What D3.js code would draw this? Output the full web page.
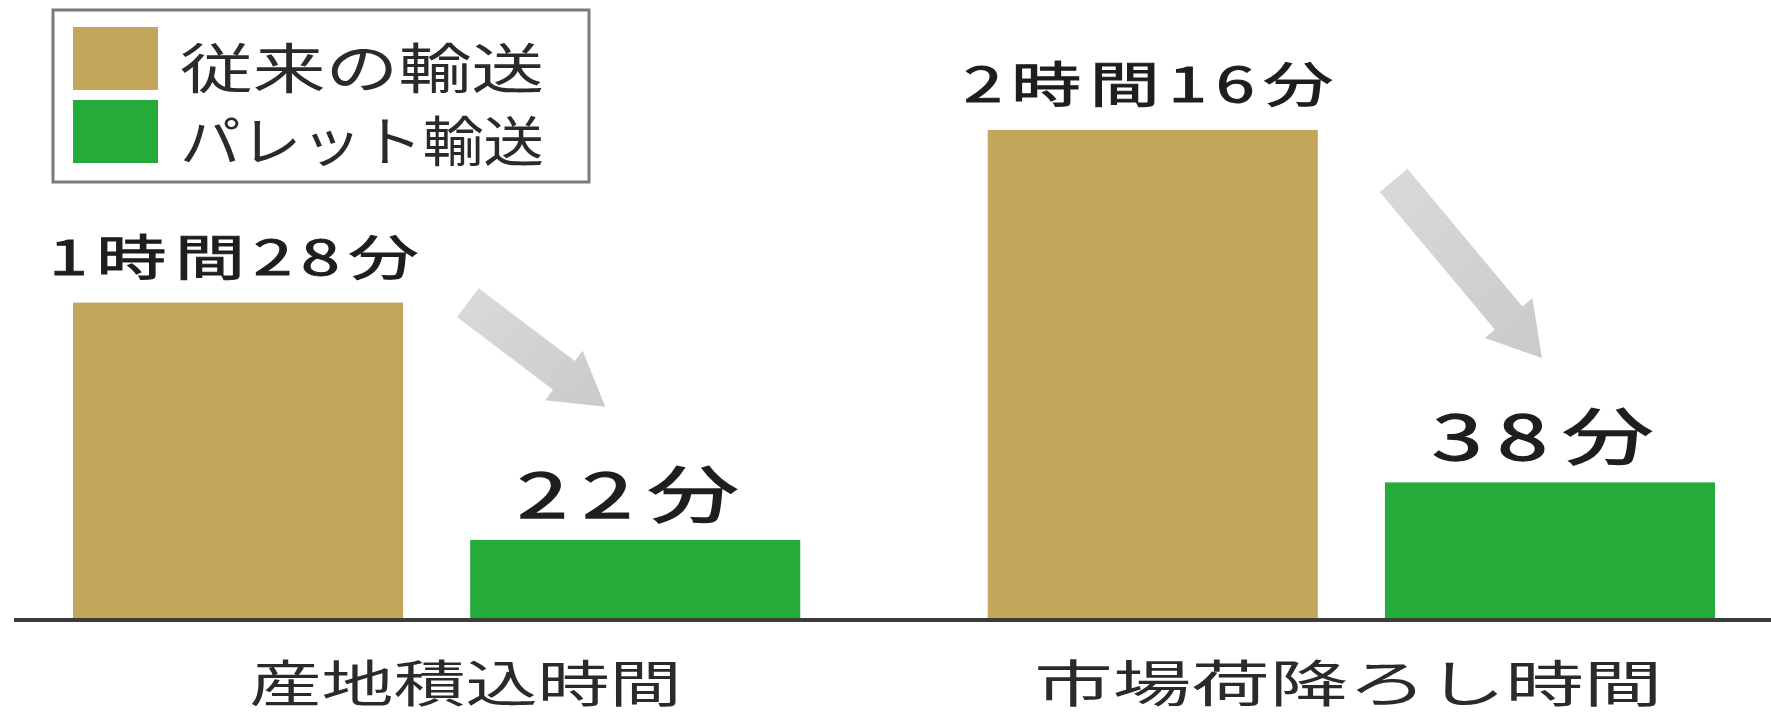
<!DOCTYPE html>
<html>
<head>
<meta charset="utf-8">
<script src="https://cdn.jsdelivr.net/npm/d3@7"></script>
<style>
  html, body { margin: 0; padding: 0; background: #fff; }
  svg { display: block; font-family: "Noto Sans CJK JP", "Noto Sans", sans-serif; }
</style>
</head>
<body>
<div id="chart"></div>
<script>
// Loading/unloading time, conventional vs pallet transport (minutes).
const categories = ['産地積込時間', '市場荷降ろし時間'];
const seriesNames = ['従来の輸送', 'パレット輸送'];
const conventionalMinutes = [88, 136];
const palletMinutes = [22, 38];
const valueLabels = [['1時間28分', '22分'], ['2時間16分', '38分']];

// Decorative arrows: [fraction across group band, minutes] for tail and tip.
const arrows = [
  { cat: '産地積込時間', from: [0.543, 88], to: [0.732, 59] },
  { cat: '市場荷降ろし時間', from: [0.558, 122], to: [0.762, 72.6] }
];

const colors = { '従来の輸送': '#c4a55c', 'パレット輸送': '#24ab3a' };

const W = 1771, H = 715;
const baseY = 619;

const svg = d3.select('#chart').append('svg').attr('width', W).attr('height', H);

const rows = categories.map((c, i) => ({
  category: c,
  values: [
    { series: seriesNames[0], value: conventionalMinutes[i], label: valueLabels[i][0] },
    { series: seriesNames[1], value: palletMinutes[i], label: valueLabels[i][1] }
  ]
}));

// Outer band = category group, inner band = series.
const x0 = d3.scaleBand().domain(categories).range([73, 1715]).paddingInner(0.205).paddingOuter(0);
const x1 = d3.scaleBand().domain(seriesNames).range([0, x0.bandwidth()]).paddingInner(0.169).paddingOuter(0);
const y = d3.scaleLinear().domain([0, 136]).range([baseY, 130]);

const groups = svg.selectAll('g.group')
  .data(rows)
  .enter().append('g')
  .attr('class', 'group')
  .attr('transform', d => `translate(${x0(d.category)},0)`);

groups.selectAll('rect')
  .data(d => d.values)
  .enter().append('rect')
  .attr('x', d => x1(d.series))
  .attr('y', d => y(d.value))
  .attr('width', x1.bandwidth())
  .attr('height', d => y(0) - y(d.value))
  .attr('fill', d => colors[d.series]);

// Value labels above each bar; the source artwork is stretched horizontally,
// so textLength widens the glyphs to match.
groups.selectAll('text.value')
  .data(d => d.values)
  .enter().append('text')
  .attr('class', 'value')
  .attr('x', d => x1(d.series) + x1.bandwidth() / 2)
  .attr('y', d => y(d.value) - 49)
  .attr('text-anchor', 'middle')
  .attr('dominant-baseline', 'central')
  .attr('font-size', d => d.label.length > 3 ? 48 : 62)
  .attr('letter-spacing', d => d.label.length > 3 ? 6 : 10)
  .attr('textLength', d => d.label.length > 3 ? 378 : 236)
  .attr('lengthAdjust', 'spacingAndGlyphs')
  .attr('fill', '#1e1e1e')
  .attr('stroke', '#1e1e1e')
  .attr('stroke-width', d => d.label.length > 3 ? 1 : 1.3)
  .text(d => d.label);

// Grey arrows between the bars of each group.
function arrowPath(x0p, y0p, x1p, y1p) {
  const dx = x1p - x0p, dy = y1p - y0p;
  const len = Math.hypot(dx, dy);
  const ux = dx / len, uy = dy / len, nx = -uy, ny = ux;
  const shaftW = 18, headW = 31, headL = 52;
  const hx = x1p - ux * headL, hy = y1p - uy * headL;
  const pts = [
    [x0p + nx * shaftW, y0p + ny * shaftW],
    [hx + nx * shaftW, hy + ny * shaftW],
    [hx + nx * headW, hy + ny * headW],
    [x1p, y1p],
    [hx - nx * headW, hy - ny * headW],
    [hx - nx * shaftW, hy - ny * shaftW],
    [x0p - nx * shaftW, y0p - ny * shaftW]
  ];
  return 'M' + pts.map(p => p.join(',')).join('L') + 'Z';
}

const defs = svg.append('defs');
const grad = defs.append('linearGradient').attr('id', 'arrowGrad')
  .attr('x1', '0').attr('y1', '0').attr('x2', '1').attr('y2', '1');
grad.append('stop').attr('offset', '0%').attr('stop-color', '#dadada');
grad.append('stop').attr('offset', '100%').attr('stop-color', '#cacaca');

svg.selectAll('path.arrow')
  .data(arrows)
  .enter().append('path')
  .attr('class', 'arrow')
  .attr('d', a => {
    const bx = x0(a.cat), bw = x0.bandwidth();
    return arrowPath(bx + a.from[0] * bw, y(a.from[1]), bx + a.to[0] * bw, y(a.to[1]));
  })
  .attr('fill', 'url(#arrowGrad)');

// Baseline across the full width.
svg.append('line')
  .attr('x1', 14).attr('x2', W)
  .attr('y1', baseY + 1).attr('y2', baseY + 1)
  .attr('stroke', '#3c3c3c')
  .attr('stroke-width', 4);

// Category labels under the baseline.
const catShift = [29, -3];
const catWidth = [432, 628];
svg.selectAll('text.cat')
  .data(categories)
  .enter().append('text')
  .attr('class', 'cat')
  .attr('x', (d, i) => x0(d) + x0.bandwidth() / 2 + catShift[i])
  .attr('y', 680)
  .attr('text-anchor', 'middle')
  .attr('dominant-baseline', 'central')
  .attr('font-size', 50)
  .attr('textLength', (d, i) => catWidth[i])
  .attr('lengthAdjust', 'spacingAndGlyphs')
  .attr('fill', '#2a2a2a')
  .text(d => d);

// Legend box.
const legend = svg.append('g');
legend.append('rect')
  .attr('x', 53).attr('y', 10).attr('width', 536).attr('height', 172)
  .attr('fill', '#fff').attr('stroke', '#7a7a7a').attr('stroke-width', 3);

const legendRows = legend.selectAll('g.item')
  .data(seriesNames)
  .enter().append('g')
  .attr('class', 'item')
  .attr('transform', (d, i) => `translate(0,${i * 73})`);

legendRows.append('rect')
  .attr('x', 73).attr('y', 27).attr('width', 85).attr('height', 63)
  .attr('fill', d => colors[d]);

legendRows.append('text')
  .attr('x', 180).attr('y', 65)
  .attr('dominant-baseline', 'central')
  .attr('font-size', 54)
  .attr('textLength', 364)
  .attr('lengthAdjust', 'spacingAndGlyphs')
  .attr('fill', '#2a2a2a')
  .text(d => d);
</script>
</body>
</html>
